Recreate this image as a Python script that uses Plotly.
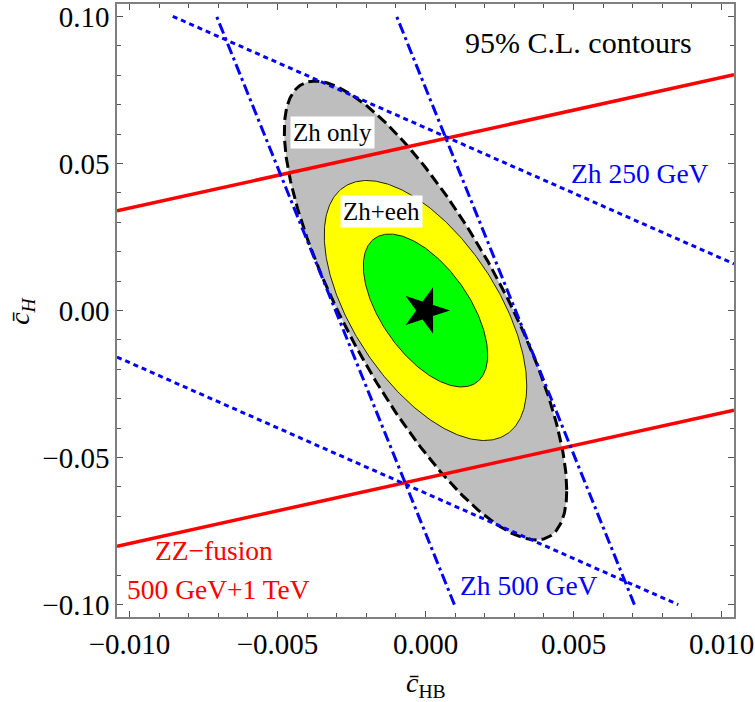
import numpy as np
import plotly.graph_objects as go

# ---------------- data ----------------
# 95% C.L. contours (ellipses centred at the origin)
contour_names = ["Zh only", "Zh+eeh", "Zh+eeh (inner)"]
sigma_x = [0.00477, 0.00342, 0.00210]
sigma_y = [0.0780, 0.0442, 0.0260]
rho = [-0.782, -0.58, -0.58]
contour_fill = ["#bebebe", "#ffff00", "#00ff00"]

# ZZ-fusion bands: y = intercept + slope * x
zz_slope = 2.22
zz_intercepts = [0.0570, -0.0570]

# Zh 250 GeV bands: y = intercept + slope * x  (clipped to |y| <= 0.1)
zh250_slope = -4.44
zh250_intercepts = [0.0621, -0.0621]

# Zh 500 GeV bands: x = x0 + y / slope  (clipped to |y| <= 0.1)
zh500_slope = -24.9
zh500_x0 = [-0.00304, 0.00304]

y_clip = [-0.100, 0.100]

# best fit point
best_x = [0.0]
best_y = [0.0]

# axes
x_range = [-0.01042, 0.01042]
y_range = [-0.1042, 0.1042]
x_tickvals = [-0.010, -0.005, 0.000, 0.005, 0.010]
x_ticktext = ["\u22120.010", "\u22120.005", "0.000", "0.005", "0.010"]
y_tickvals = [-0.10, -0.05, 0.00, 0.05, 0.10]
y_ticktext = ["\u22120.10", "\u22120.05", "0.00", "0.05", "0.10"]

FONT = "Liberation Serif, Times New Roman, serif"

fig = go.Figure()

# ---------------- contours ----------------
t = np.linspace(0, 2 * np.pi, 361)
for i, name in enumerate(contour_names):
    sx, sy, r = sigma_x[i], sigma_y[i], rho[i]
    ex = sx * np.cos(t)
    ey = sy * (r * np.cos(t) + np.sqrt(1 - r * r) * np.sin(t))
    if i == 0:
        line = dict(color="black", width=3, dash="11px,5px")
    else:
        line = dict(color="#222200", width=1)
    fig.add_trace(go.Scatter(x=ex, y=ey, mode="lines", fill="toself",
                             fillcolor=contour_fill[i], line=line,
                             name=name, hoverinfo="skip"))

# ---------------- ZZ fusion (red) ----------------
for b in zz_intercepts:
    xs = np.array(x_range)
    fig.add_trace(go.Scatter(x=xs, y=b + zz_slope * xs, mode="lines",
                             line=dict(color="#ff0000", width=3.5),
                             hoverinfo="skip"))

# ---------------- Zh 250 GeV (blue dotted) ----------------
for b in zh250_intercepts:
    x_at_clip = [(yc - b) / zh250_slope for yc in y_clip]
    lo = max(x_range[0], min(x_at_clip))
    hi = min(x_range[1], max(x_at_clip))
    xs = np.array([lo, hi])
    fig.add_trace(go.Scatter(x=xs, y=b + zh250_slope * xs, mode="lines",
                             line=dict(color="#0000ff", width=3, dash="5px,4px"),
                             hoverinfo="skip"))

# ---------------- Zh 500 GeV (blue dash-dot) ----------------
for x0 in zh500_x0:
    ys = np.array(y_clip)
    fig.add_trace(go.Scatter(x=x0 + ys / zh500_slope, y=ys, mode="lines",
                             line=dict(color="#0000ff", width=3,
                                       dash="11px,4px,3px,4px"),
                             hoverinfo="skip"))

# ---------------- best fit star ----------------
fig.add_trace(go.Scatter(x=best_x, y=best_y, mode="markers",
                         marker=dict(symbol="star", size=35, angle=18,
                                     color="black", line=dict(width=0)),
                         hoverinfo="skip"))

# ---------------- annotations ----------------
ann = [
    dict(x=0.00516, y=0.0912, text="95% C.L. contours", color="black", size=30, bg=None),
    dict(x=0.00726, y=0.0465, text="Zh 250 GeV", color="#0000ff", size=27.5, bg=None),
    dict(x=0.00348, y=-0.0935, text="Zh 500 GeV", color="#0000ff", size=27.5, bg=None),
    dict(x=-0.00713, y=-0.0815, text="ZZ\u2212fusion", color="#ff0000", size=27.5, bg=None),
    dict(x=-0.00699, y=-0.0948, text="500 GeV+1 TeV", color="#ff0000", size=27.5, bg=None),
    dict(x=-0.00314, y=0.0604, text="Zh only", color="black", size=25, bg="white"),
    dict(x=-0.00148, y=0.0335, text="Zh+eeh", color="black", size=25, bg="white"),
]
for a in ann:
    kw = dict(x=a["x"], y=a["y"], xref="x", yref="y", text=a["text"],
              showarrow=False, xanchor="center", yanchor="middle",
              font=dict(family=FONT, size=a["size"], color=a["color"]))
    if a["bg"]:
        kw.update(bgcolor=a["bg"], borderpad=2)
    fig.add_annotation(**kw)

# axis titles
fig.add_annotation(x=0.5, y=-0.11, xref="paper", yref="paper",
                   text="<i>c\u0304</i><sub>HB</sub>", showarrow=False,
                   xanchor="center", yanchor="middle",
                   font=dict(family=FONT, size=28, color="black"))
fig.add_annotation(x=-0.155, y=0.5, xref="paper", yref="paper",
                   text="<i>c\u0304</i><sub><i>H</i></sub>", showarrow=False,
                   textangle=-90, xanchor="center", yanchor="middle",
                   font=dict(family=FONT, size=28, color="black"))

axis_common = dict(showgrid=False, zeroline=False, showline=True,
                   linecolor="#808080", linewidth=1.5, mirror="allticks",
                   ticks="inside", ticklen=6, tickwidth=1.2, tickcolor="#555555",
                   ticklabeloverflow="allow",
                   tickfont=dict(family=FONT, size=29, color="black"))

fig.update_xaxes(range=x_range, tickvals=x_tickvals, ticktext=x_ticktext,
                 minor=dict(ticks="inside", dtick=0.001, tick0=0, ticklen=4,
                            tickcolor="#555555", tickwidth=1),
                 **axis_common)
fig.update_yaxes(range=y_range, tickvals=y_tickvals, ticktext=y_ticktext,
                 minor=dict(ticks="inside", dtick=0.01, tick0=0, ticklen=4,
                            tickcolor="#555555", tickwidth=1),
                 **axis_common)

fig.update_layout(width=755, height=702, showlegend=False,
                  margin=dict(l=117, r=21, t=1, b=85),
                  plot_bgcolor="white", paper_bgcolor="white",
                  font=dict(family=FONT))

fig.write_html("out.html", config={"displayModeBar": False},
               post_script="document.body.style.margin='0px';")
